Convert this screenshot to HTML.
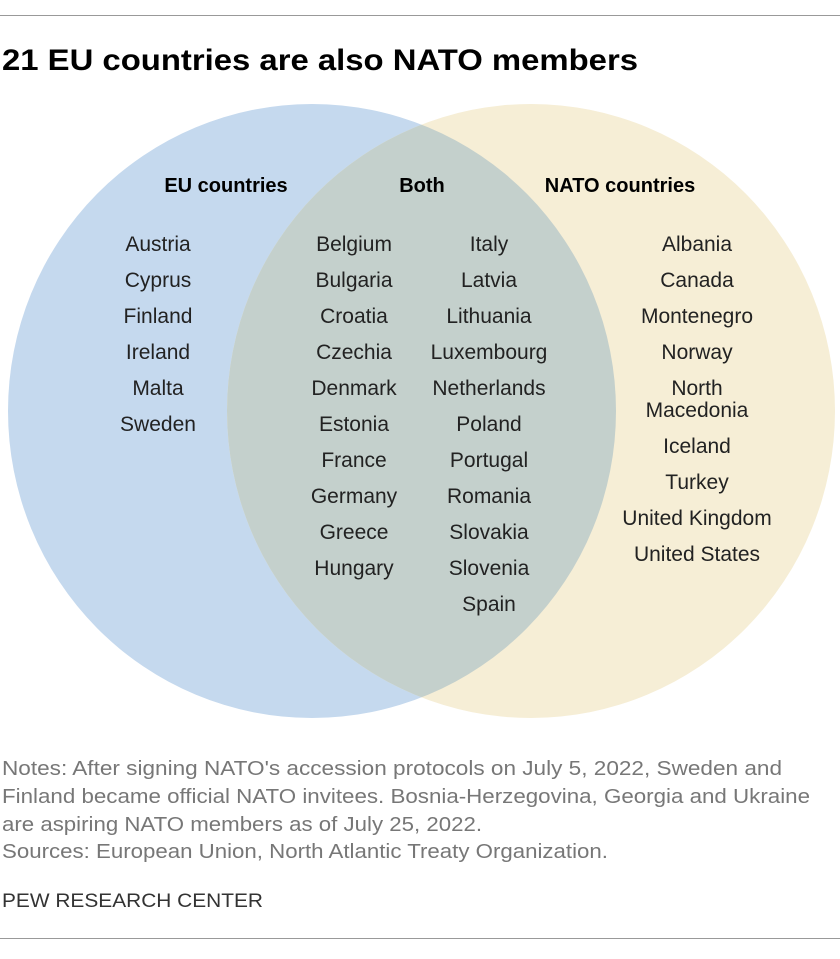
<!DOCTYPE html>
<html><head><meta charset="utf-8"><style>
body{margin:0;background:#fff;width:840px;height:954px;overflow:hidden;font-family:"Liberation Sans",sans-serif;}
</style></head><body>
<svg width="840" height="954" xmlns="http://www.w3.org/2000/svg" font-family="Liberation Sans, sans-serif">
<line x1="0" y1="15.5" x2="840" y2="15.5" stroke="#999"/>
<text x="2" y="70" font-size="30" font-weight="bold" fill="#000" textLength="636" lengthAdjust="spacingAndGlyphs">21 EU countries are also NATO members</text>
<defs><clipPath id="bc"><ellipse cx="312" cy="411" rx="304" ry="307"/></clipPath></defs>
<ellipse cx="312" cy="411" rx="304" ry="307" fill="#c5d9ee"/>
<ellipse cx="531" cy="411" rx="304" ry="307" fill="#f6eed6"/>
<ellipse cx="531" cy="411" rx="304" ry="307" fill="#c4d0cc" clip-path="url(#bc)"/>
<g font-size="20" font-weight="bold" text-anchor="middle" fill="#000">
<text x="226" y="192">EU countries</text>
<text x="422" y="192">Both</text>
<text x="620" y="192">NATO countries</text>
</g>
<g id="lists" font-size="21" text-anchor="middle" fill="#222"></g>
<g font-size="20" fill="#777">
<text x="2" y="775" textLength="780" lengthAdjust="spacingAndGlyphs">Notes: After signing NATO's accession protocols on July 5, 2022, Sweden and</text>
<text x="2" y="803" textLength="808" lengthAdjust="spacingAndGlyphs">Finland became official NATO invitees. Bosnia-Herzegovina, Georgia and Ukraine</text>
<text x="2" y="831" textLength="480" lengthAdjust="spacingAndGlyphs">are aspiring NATO members as of July 25, 2022.</text>
<text x="2" y="858" textLength="606" lengthAdjust="spacingAndGlyphs">Sources: European Union, North Atlantic Treaty Organization.</text>
</g>
<text x="2" y="907" font-size="19" fill="#333" textLength="261" lengthAdjust="spacingAndGlyphs">PEW RESEARCH CENTER</text>
<line x1="0" y1="938.5" x2="840" y2="938.5" stroke="#999"/>
</svg>
<script>
const euOnly=["Austria","Cyprus","Finland","Ireland","Malta","Sweden"];
const bothLeft=["Belgium","Bulgaria","Croatia","Czechia","Denmark","Estonia","France","Germany","Greece","Hungary"];
const bothRight=["Italy","Latvia","Lithuania","Luxembourg","Netherlands","Poland","Portugal","Romania","Slovakia","Slovenia","Spain"];
const natoOnly=["Albania","Canada","Montenegro","Norway","North|Macedonia","Iceland","Turkey","United Kingdom","United States"];
const g=document.getElementById('lists');
const NS="http://www.w3.org/2000/svg";
function col(list,x){
  let y=251;
  list.forEach(n=>{
    const parts=n.split('|');
    parts.forEach((p,i)=>{
      const t=document.createElementNS(NS,'text');
      t.setAttribute('x',x);t.setAttribute('y',y+i*22);
      t.textContent=p;
      
      
      g.appendChild(t);
    });
    y+=36+(parts.length-1)*22;
  });
}
col(euOnly,158);col(bothLeft,354);col(bothRight,489);col(natoOnly,697);
</script>
</body></html>
